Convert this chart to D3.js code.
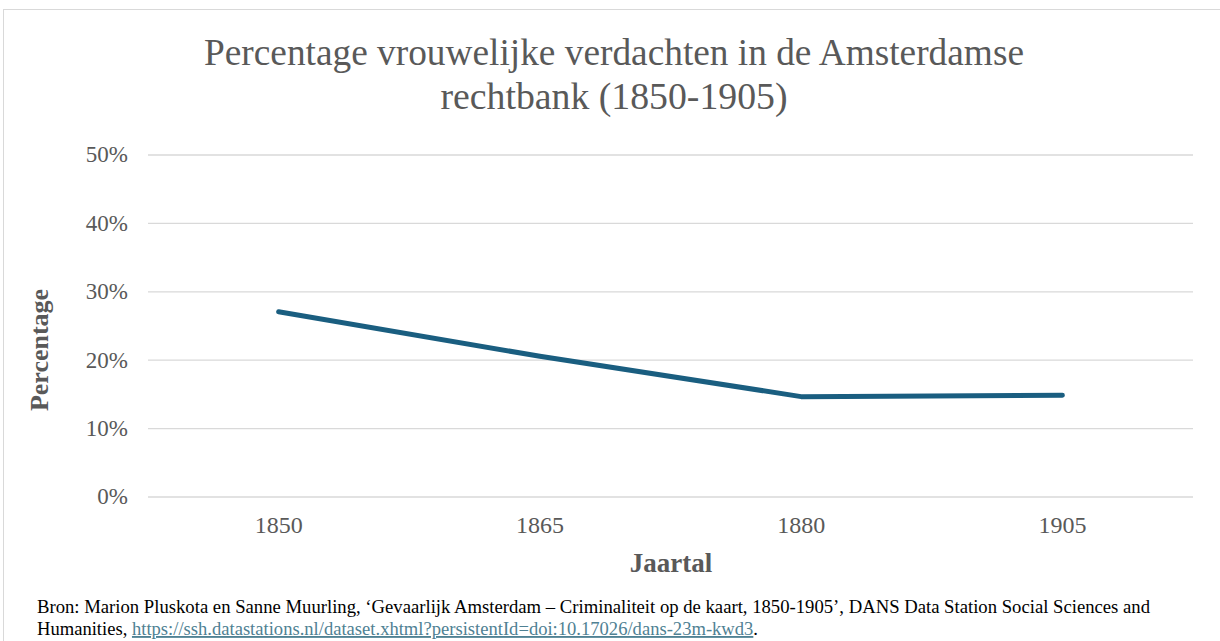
<!DOCTYPE html>
<html><head><meta charset="utf-8">
<script src="https://cdn.jsdelivr.net/npm/d3@7"></script>
<style>body{margin:0;background:#fff}svg{display:block}</style>
</head><body>
<script>
const years = ["1850","1865","1880","1905"];
const values = [0.270, 0.205, 0.146, 0.148];
const yTicks = [0,0.1,0.2,0.3,0.4,0.5];
const titleLines = ["Percentage vrouwelijke verdachten in de Amsterdamse","rechtbank (1850-1905)"];
const yTitle = "Percentage";
const xTitle = "Jaartal";
const footerLine1 = "Bron: Marion Pluskota en Sanne Muurling, ‘Gevaarlijk  Amsterdam – Criminaliteit op de kaart, 1850-1905’, DANS Data Station Social Sciences and";
const footerPrefix = "Humanities, ";
const footerLink = "https://ssh.datastations.nl/dataset.xhtml?persistentId=doi:10.17026/dans-23m-kwd3";

const W=1220,H=641;
const svg=d3.select("body").append("svg").attr("width",W).attr("height",H);
const serif="'Liberation Serif','Times New Roman',serif";
svg.append("rect").attr("x",3.5).attr("y",9.5).attr("width",W+10).attr("height",H+10)
  .attr("fill","#fff").attr("stroke","#d9d9d9").attr("stroke-width",1);

const x=d3.scaleBand().domain(years).range([148,1193]);
const y=d3.scaleLinear().domain([0,0.5]).range([496.5,154.5]);

const titleW=[820,347];
svg.append("g").selectAll("text").data(titleLines).join("text")
  .attr("x",614).attr("y",(d,i)=>65+i*44).attr("text-anchor","middle")
  .attr("font-family",serif).attr("font-size",37).attr("fill","#595959")
  .attr("textLength",(d,i)=>titleW[i]).attr("lengthAdjust","spacingAndGlyphs").text(d=>d);

const yAxis=d3.axisLeft(y).tickValues(yTicks).tickFormat(d3.format(".0%")).tickSize(-(1193-148)).tickPadding(20);
const gy=svg.append("g").attr("transform","translate(148,0)").call(yAxis);
gy.select(".domain").remove();
gy.selectAll("line").attr("stroke","#d9d9d9").attr("stroke-width",1.3);
gy.selectAll("text").attr("font-family",serif).attr("font-size",23).attr("fill","#595959");

const xAxis=d3.axisBottom(x).tickSize(0).tickPadding(19);
const gx=svg.append("g").attr("transform","translate(0,496.5)").call(xAxis);
gx.select(".domain").remove();
gx.selectAll("text").attr("font-family",serif).attr("font-size",24).attr("fill","#595959");

svg.append("text").attr("transform","translate(48,350) rotate(-90)").attr("text-anchor","middle")
  .attr("font-family",serif).attr("font-size",26).attr("font-weight","bold").attr("fill","#595959").text(yTitle);
svg.append("text").attr("x",671).attr("y",572).attr("text-anchor","middle")
  .attr("font-family",serif).attr("font-size",27).attr("font-weight","bold").attr("fill","#595959").text(xTitle);

const line=d3.line().x((d,i)=>x(years[i])+x.bandwidth()/2).y(d=>y(d));
svg.append("path").datum(values).attr("d",line).attr("fill","none")
  .attr("stroke","#1a5e80").attr("stroke-width",5).attr("stroke-linecap","round").attr("stroke-linejoin","round");

svg.append("text").attr("x",37).attr("y",613).attr("font-family",serif).attr("font-size",18.5).attr("fill","#000")
  .attr("textLength",1113).attr("lengthAdjust","spacingAndGlyphs").text(footerLine1);
const f2=svg.append("text").attr("x",37).attr("y",635).attr("font-family",serif).attr("font-size",18.5).attr("fill","#000")
  .attr("textLength",721).attr("lengthAdjust","spacingAndGlyphs");
f2.append("tspan").text(footerPrefix);
f2.append("tspan").attr("fill","#4f8193").attr("text-decoration","underline").text(footerLink);
f2.append("tspan").text(".");
</script>
</body></html>
